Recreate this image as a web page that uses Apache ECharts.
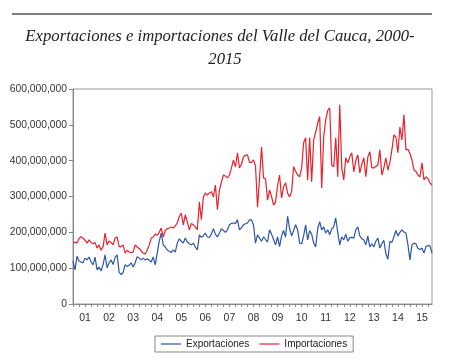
<!DOCTYPE html>
<html><head><meta charset="utf-8">
<script src="https://cdn.jsdelivr.net/npm/echarts@6/dist/echarts.min.js"></script>
<style>html,body{margin:0;padding:0;background:#fff}#c{width:450px;height:361px}</style>
</head><body><div id="c"></div>
<script>
// Monthly values, millions of US$ (2001-01 .. 2015-12)
const years = ['01','02','03','04','05','06','07','08','09','10','11','12','13','14','15'];
const yTicks = [0,100000000,200000000,300000000,400000000,500000000,600000000];
const exportaciones = [
 120,95,133,120,117,115,128,123,131,118,109,131,
 95,103,92,110,137,101,115,123,110,130,137,89,
 82,88,110,105,108,115,103,115,132,128,123,128,
 123,126,122,117,131,109,142,175,198,165,159,151,
 147,144,151,145,170,182,175,170,184,173,168,165,
 170,159,151,193,186,190,198,187,186,195,210,195,
 187,198,210,205,200,207,221,225,226,225,235,207,
 213,221,224,226,235,235,220,170,193,184,175,187,
 180,173,207,195,180,165,187,160,190,205,187,245,
 210,190,205,221,207,170,168,190,221,179,205,195,
 170,159,210,230,207,215,198,207,193,210,215,240,
 200,165,187,179,195,175,185,186,184,207,215,190,
 182,179,165,190,159,168,159,175,184,156,168,178,
 140,125,175,172,187,205,190,200,207,201,198,165,
 123,165,170,168,155,152,156,142,160,163,162,142
];
const importaciones = [
 173,172,170,182,188,184,178,170,179,172,168,172,
 156,165,150,160,198,165,176,172,165,184,187,160,
 160,165,142,150,145,143,145,165,159,155,148,142,
 140,150,165,184,187,195,192,200,212,187,205,210,
 212,215,212,218,226,245,254,221,249,229,207,225,
 221,215,207,285,235,299,310,304,310,313,299,332,
 263,318,340,360,357,352,360,380,402,383,422,380,
 390,411,415,416,395,395,402,385,270,350,438,352,
 349,290,318,300,276,285,330,360,296,327,338,310,
 299,313,383,370,360,355,380,450,464,346,464,341,
 458,480,505,523,324,466,514,540,547,388,383,464,
 355,556,380,346,408,394,410,422,369,400,416,366,
 390,408,355,410,425,380,380,384,388,430,360,380,
 408,374,395,430,472,466,422,494,458,528,430,432,
 420,402,374,370,360,355,394,346,355,350,338,332
];
const months = [];
years.forEach(y => { for (let m = 1; m <= 12; m++) months.push(y + '-' + m); });
const toUnits = a => a.map(v => v * 1e6);

const chart = echarts.init(document.getElementById('c'), null, {renderer: 'canvas'});
const fmt = v => String(v).replace(/\B(?=(\d{3})+(?!\d))/g, ',');
chart.setOption({
  animation: false,
  backgroundColor: '#fff',
  grid: {left: 73, right: 18, top: 89, bottom: 57, show: true, borderColor: '#999', borderWidth: 1},
  graphic: [
    {type: 'line', shape: {x1: 12, y1: 14, x2: 432, y2: 14}, style: {stroke: '#555', lineWidth: 1.5}},
    {type: 'text', x: 220, y: 37, style: {text: 'Exportaciones e importaciones del Valle del Cauca, 2000-', font: 'italic 16.7px "Liberation Serif"', fill: '#222', textAlign: 'center', textVerticalAlign: 'middle'}},
    {type: 'text', x: 225, y: 60, style: {text: '2015', font: 'italic 16.7px "Liberation Serif"', fill: '#222', textAlign: 'center', textVerticalAlign: 'middle'}}
  ],
  legend: {
    bottom: 9, left: 155,
    data: [{name: 'Exportaciones', icon: 'rect'}, {name: 'Importaciones', icon: 'rect'}],
    borderColor: '#888', borderWidth: 1, borderRadius: 0,
    padding: [3, 6, 3, 6], itemGap: 10, itemWidth: 20, itemHeight: 1.2,
    textStyle: {fontFamily: 'Liberation Sans', fontSize: 10, color: '#222'}
  },
  xAxis: {
    type: 'category', data: months, boundaryGap: false,
    axisLine: {lineStyle: {color: '#888'}},
    axisTick: {length: 3, interval: i => i % 3 === 0, lineStyle: {color: '#888'}},
    axisLabel: {interval: i => i % 12 === 6, formatter: v => v.split('-')[0], fontFamily: 'Liberation Sans', fontSize: 10.5, color: '#333', margin: 9},
    splitLine: {show: false}
  },
  yAxis: {
    type: 'value', min: yTicks[0], max: yTicks[yTicks.length - 1], interval: 100000000,
    axisLine: {show: true, lineStyle: {color: '#888'}},
    axisTick: {show: true, length: 4, lineStyle: {color: '#888'}},
    axisLabel: {formatter: fmt, fontFamily: 'Liberation Sans', fontSize: 10.3, color: '#333', margin: 6},
    splitLine: {show: false}
  },
  series: [
    {name: 'Exportaciones', type: 'line', data: toUnits(exportaciones), symbol: 'none', color: '#2E56A6', lineStyle: {width: 1.2, color: '#2E56A6'}},
    {name: 'Importaciones', type: 'line', data: toUnits(importaciones), symbol: 'none', color: '#E8222B', lineStyle: {width: 1.2, color: '#E8222B'}}
  ]
});
</script></body></html>
